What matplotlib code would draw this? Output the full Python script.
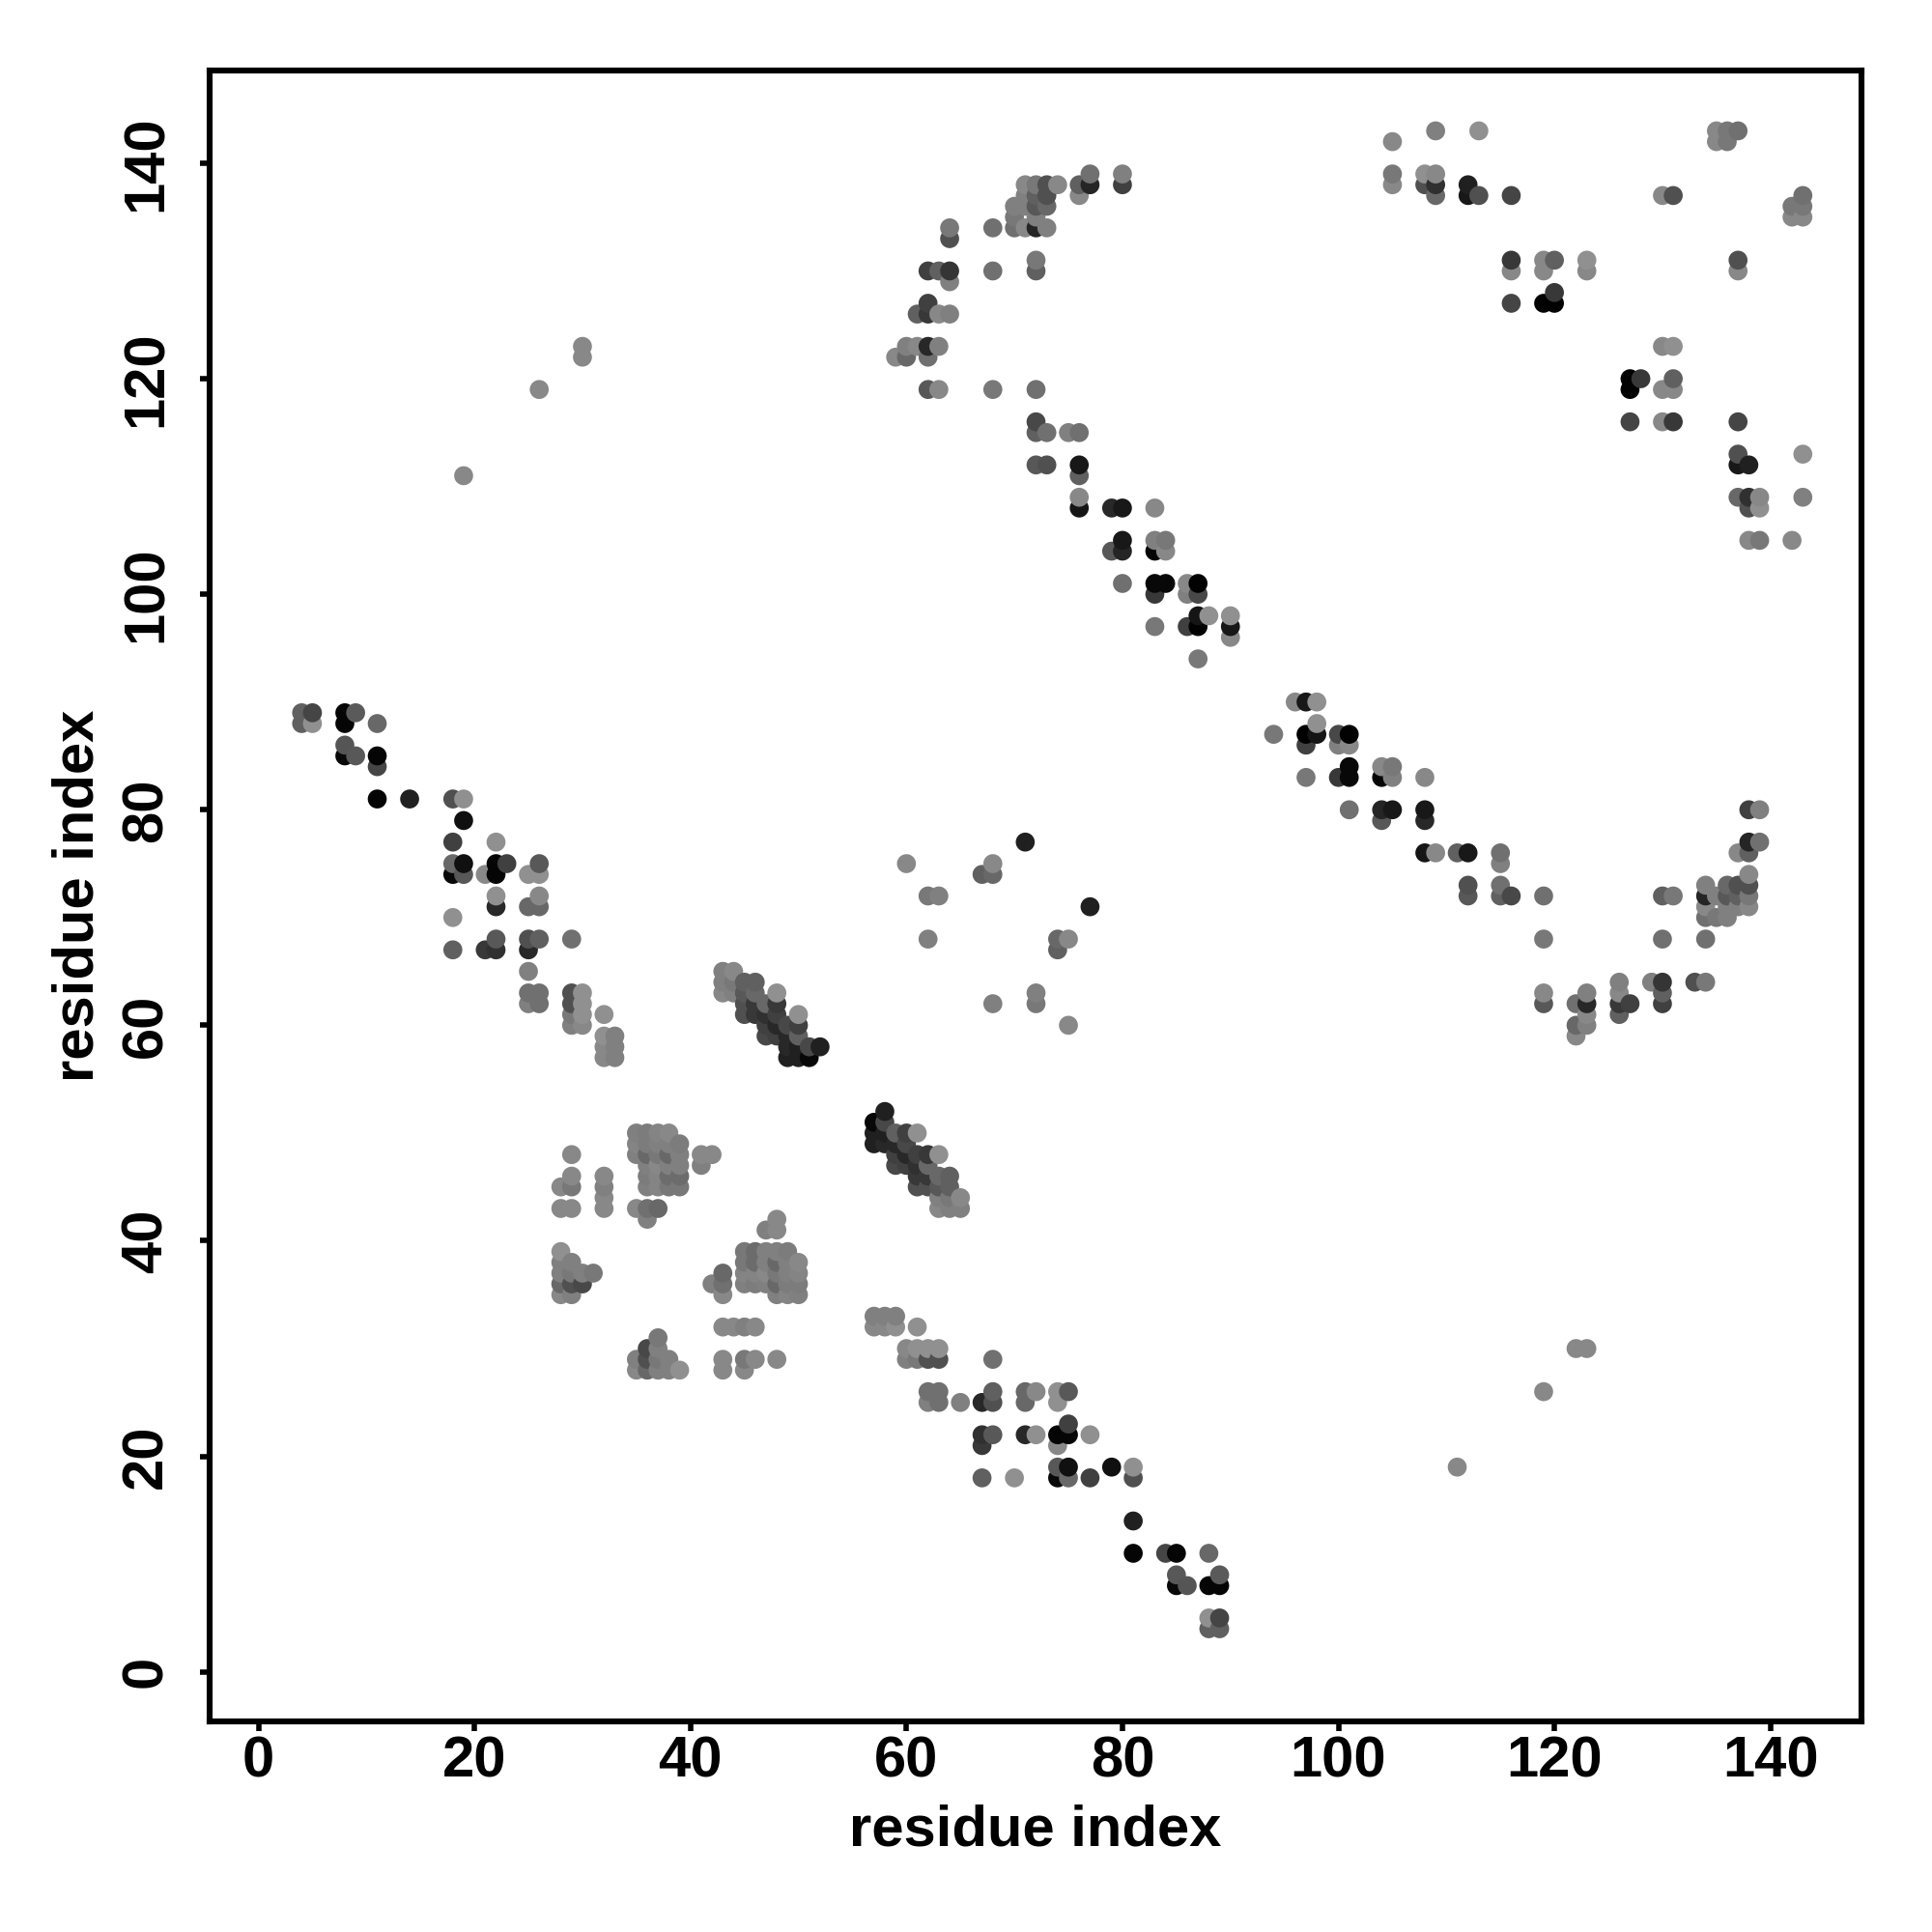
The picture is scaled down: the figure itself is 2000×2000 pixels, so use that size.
import numpy as np
import matplotlib
matplotlib.use('Agg')
from matplotlib import pyplot as plt

# contacts as (residue a, residue b, grey level), a < b. the map is symmetric so
# the mirrored point is added further down
n_term_contacts = [
    (4, 88, 0x60), (4, 89, 0x60), (5, 88, 0x90), (5, 89, 0x45),
    (8, 85, 0x08), (8, 86, 0x55), (8, 88, 0x05), (8, 89, 0x05), (9, 85, 0x58), (9, 89, 0x5a),
    (11, 81, 0x05), (11, 84, 0x45), (11, 85, 0x05), (11, 88, 0x68), (14, 81, 0x20),
    (18, 67, 0x60), (18, 70, 0x90), (18, 74, 0x08), (18, 75, 0x68), (18, 77, 0x40), (18, 81, 0x50),
    (19, 74, 0x58), (19, 75, 0x10), (19, 79, 0x10), (19, 81, 0x90), (19, 111, 0x88),
    (21, 67, 0x38), (21, 74, 0x88),
    (22, 67, 0x30), (22, 68, 0x58), (22, 71, 0x28), (22, 72, 0x90), (22, 74, 0x05), (22, 75, 0x05), (22, 77, 0x90),
    (23, 75, 0x40),
    (25, 62, 0x80), (25, 63, 0x70), (25, 65, 0x80), (25, 67, 0x28), (25, 68, 0x50), (25, 71, 0x68), (25, 74, 0x90),
    (26, 62, 0x70), (26, 63, 0x70), (26, 68, 0x60), (26, 71, 0x68), (26, 72, 0x88), (26, 74, 0x90), (26, 75, 0x58),
    (26, 119, 0x88),
]

cluster_contacts = [
    (28, 35, 0x88), (28, 36, 0x68), (28, 37, 0x80), (28, 38, 0x80), (28, 39, 0x90), (28, 43, 0x88), (28, 45, 0x88),
    (29, 35, 0x80), (29, 36, 0x50), (29, 37, 0x78), (29, 38, 0x80),
    (29, 43, 0x88), (29, 45, 0x78), (29, 46, 0x88), (29, 48, 0x88),
    (29, 60, 0x80), (29, 61, 0x78), (29, 62, 0x50), (29, 63, 0x50), (29, 68, 0x70),
    (30, 36, 0x48), (30, 37, 0x80), (30, 60, 0x88), (30, 61, 0x90), (30, 62, 0x90), (30, 63, 0x90),
    (30, 122, 0x88), (30, 123, 0x88), (31, 37, 0x78),
    (32, 43, 0x88), (32, 44, 0x88), (32, 45, 0x80), (32, 46, 0x88),
    (32, 57, 0x88), (32, 58, 0x88), (32, 59, 0x90), (32, 61, 0x90),
    (33, 57, 0x80), (33, 58, 0x80), (33, 59, 0x80),
    (35, 43, 0x88), (35, 48, 0x80), (35, 49, 0x84), (35, 50, 0x80),
    (36, 42, 0x80), (36, 43, 0x70), (36, 45, 0x80), (36, 46, 0x7c), (36, 47, 0x80),
    (36, 48, 0x68), (36, 49, 0x7c), (36, 50, 0x7c),
    (37, 43, 0x68), (37, 45, 0x84), (37, 46, 0x84), (37, 47, 0x88), (37, 48, 0x78), (37, 49, 0x80), (37, 50, 0x84),
    (38, 45, 0x78), (38, 46, 0x6c), (38, 47, 0x80), (38, 48, 0x68), (38, 49, 0x80), (38, 50, 0x88),
    (39, 45, 0x78), (39, 46, 0x6c), (39, 47, 0x80), (39, 48, 0x80), (39, 49, 0x7c),
    (41, 47, 0x80), (41, 48, 0x88), (42, 48, 0x88),
]

diagonal_band_contacts = [
    (43, 63, 0x88), (43, 64, 0x80), (43, 65, 0x80), (44, 63, 0x80), (44, 64, 0x78), (44, 65, 0x88),
    (45, 61, 0x50), (45, 62, 0x50), (45, 63, 0x58), (45, 64, 0x60),
    (46, 61, 0x38), (46, 62, 0x38), (46, 63, 0x68), (46, 64, 0x60),
    (47, 59, 0x48), (47, 60, 0x40), (47, 61, 0x30), (47, 62, 0x68),
    (48, 59, 0x40), (48, 60, 0x28), (48, 61, 0x40), (48, 62, 0x38), (48, 63, 0x90),
    (49, 57, 0x20), (49, 58, 0x28), (49, 59, 0x28), (49, 60, 0x48),
    (50, 57, 0x20), (50, 58, 0x20), (50, 59, 0x60), (50, 60, 0x40), (50, 61, 0x90),
    (51, 57, 0x08), (51, 58, 0x48), (52, 58, 0x20),
]

middle_contacts = [
    (59, 122, 0x88), (60, 75, 0x88), (60, 122, 0x68), (60, 123, 0x80), (61, 123, 0x88), (61, 126, 0x60),
    (62, 68, 0x80), (62, 72, 0x78), (62, 119, 0x58), (62, 122, 0x70), (62, 123, 0x28),
    (62, 126, 0x38), (62, 127, 0x40), (62, 130, 0x40),
    (63, 72, 0x80), (63, 119, 0x88), (63, 123, 0x80), (63, 126, 0x88), (63, 130, 0x60),
    (64, 126, 0x80), (64, 129, 0x80), (64, 130, 0x35), (64, 133, 0x50), (64, 134, 0x78),
    (67, 74, 0x60), (68, 74, 0x68), (68, 75, 0x88), (68, 119, 0x78), (68, 130, 0x70), (68, 134, 0x70),
    (70, 134, 0x70), (70, 135, 0x78), (70, 136, 0x80),
    (71, 77, 0x20), (71, 134, 0x88), (71, 136, 0x80), (71, 137, 0x80), (71, 138, 0x88),
    (72, 112, 0x58), (72, 115, 0x60), (72, 116, 0x48), (72, 119, 0x70), (72, 130, 0x60), (72, 131, 0x78),
    (72, 134, 0x25), (72, 135, 0x80), (72, 136, 0x58), (72, 137, 0x60), (72, 138, 0x78),
    (73, 112, 0x50), (73, 115, 0x70), (73, 134, 0x80), (73, 136, 0x68), (73, 137, 0x50), (73, 138, 0x50),
    (74, 138, 0x88), (75, 115, 0x80),
    (76, 108, 0x15), (76, 109, 0x88), (76, 111, 0x60), (76, 112, 0x18), (76, 115, 0x70), (76, 137, 0x88), (76, 138, 0x60),
    (77, 138, 0x25), (77, 139, 0x70),
    (79, 104, 0x58), (79, 108, 0x28),
    (80, 101, 0x70), (80, 104, 0x25), (80, 105, 0x18), (80, 108, 0x18), (80, 138, 0x40), (80, 139, 0x80),
    (83, 97, 0x78), (83, 100, 0x38), (83, 101, 0x08), (83, 104, 0x05), (83, 105, 0x80), (83, 108, 0x88),
    (84, 101, 0x08), (84, 104, 0x88), (84, 105, 0x78),
    (86, 97, 0x40), (86, 100, 0x80), (86, 101, 0x88),
    (87, 94, 0x78), (87, 97, 0x02), (87, 98, 0x15), (87, 100, 0x48), (87, 101, 0x02),
    (88, 98, 0x90), (90, 96, 0x88), (90, 97, 0x18), (90, 98, 0x90),
]

c_term_contacts = [
    (105, 138, 0x88), (105, 139, 0x78), (105, 142, 0x88), (108, 138, 0x50), (108, 139, 0x90),
    (109, 137, 0x68), (109, 138, 0x30), (109, 139, 0x88), (109, 143, 0x80),
    (112, 137, 0x18), (112, 138, 0x20), (113, 137, 0x50), (113, 143, 0x90),
    (116, 127, 0x45), (116, 130, 0x88), (116, 131, 0x38), (116, 137, 0x45),
    (119, 127, 0x02), (119, 130, 0x88), (119, 131, 0x88),
    (120, 127, 0x02), (120, 128, 0x38), (120, 131, 0x60),
    (123, 130, 0x88), (123, 131, 0x90),
    (130, 137, 0x88), (131, 137, 0x50),
    (135, 142, 0x88), (135, 143, 0x88), (136, 142, 0x78), (136, 143, 0x78), (137, 143, 0x70),
]

tick_values = [0, 20, 40, 60, 80, 100, 120, 140]

contacts = np.array(n_term_contacts + cluster_contacts + diagonal_band_contacts
                    + middle_contacts + c_term_contacts)

# both triangles, drawn column by column like the original matrix plot
x = np.concatenate([contacts[:, 0], contacts[:, 1]])
y = np.concatenate([contacts[:, 1], contacts[:, 0]])
grey = np.concatenate([contacts[:, 2], contacts[:, 2]]) / 255.0
order = np.lexsort((y, x))
colors = [(g, g, g) for g in grey[order]]

plt.rcParams['font.family'] = ['Liberation Sans', 'DejaVu Sans']
plt.rcParams['font.weight'] = 'bold'

fig = plt.figure(figsize=(10, 10), dpi=200)
ax = fig.add_axes([217 / 2000, 218 / 2000, 1710 / 2000, 1709 / 2000])
ax.scatter(x[order], y[order], s=50, c=colors, linewidths=0, zorder=2)

ax.set_xlim(-4.52, 148.43)
ax.set_ylim(-4.6, 148.6)
ax.set_xticks(tick_values)
ax.set_yticks(tick_values)
ax.tick_params(axis='both', length=3.5, width=2.0, labelsize=21.5)
ax.tick_params(axis='x', pad=1.7)
ax.tick_params(axis='y', pad=10)
for label in ax.get_yticklabels():
    label.set_rotation(90)
    label.set_va('center')
for spine in ax.spines.values():
    spine.set_linewidth(2.2)

ax.set_xlabel('residue index', fontsize=21.5, fontweight='bold', labelpad=5.7)
ax.set_ylabel('residue index', fontsize=21.5, fontweight='bold', labelpad=5.9)

fig.savefig('out.png', dpi=200, facecolor='white')
